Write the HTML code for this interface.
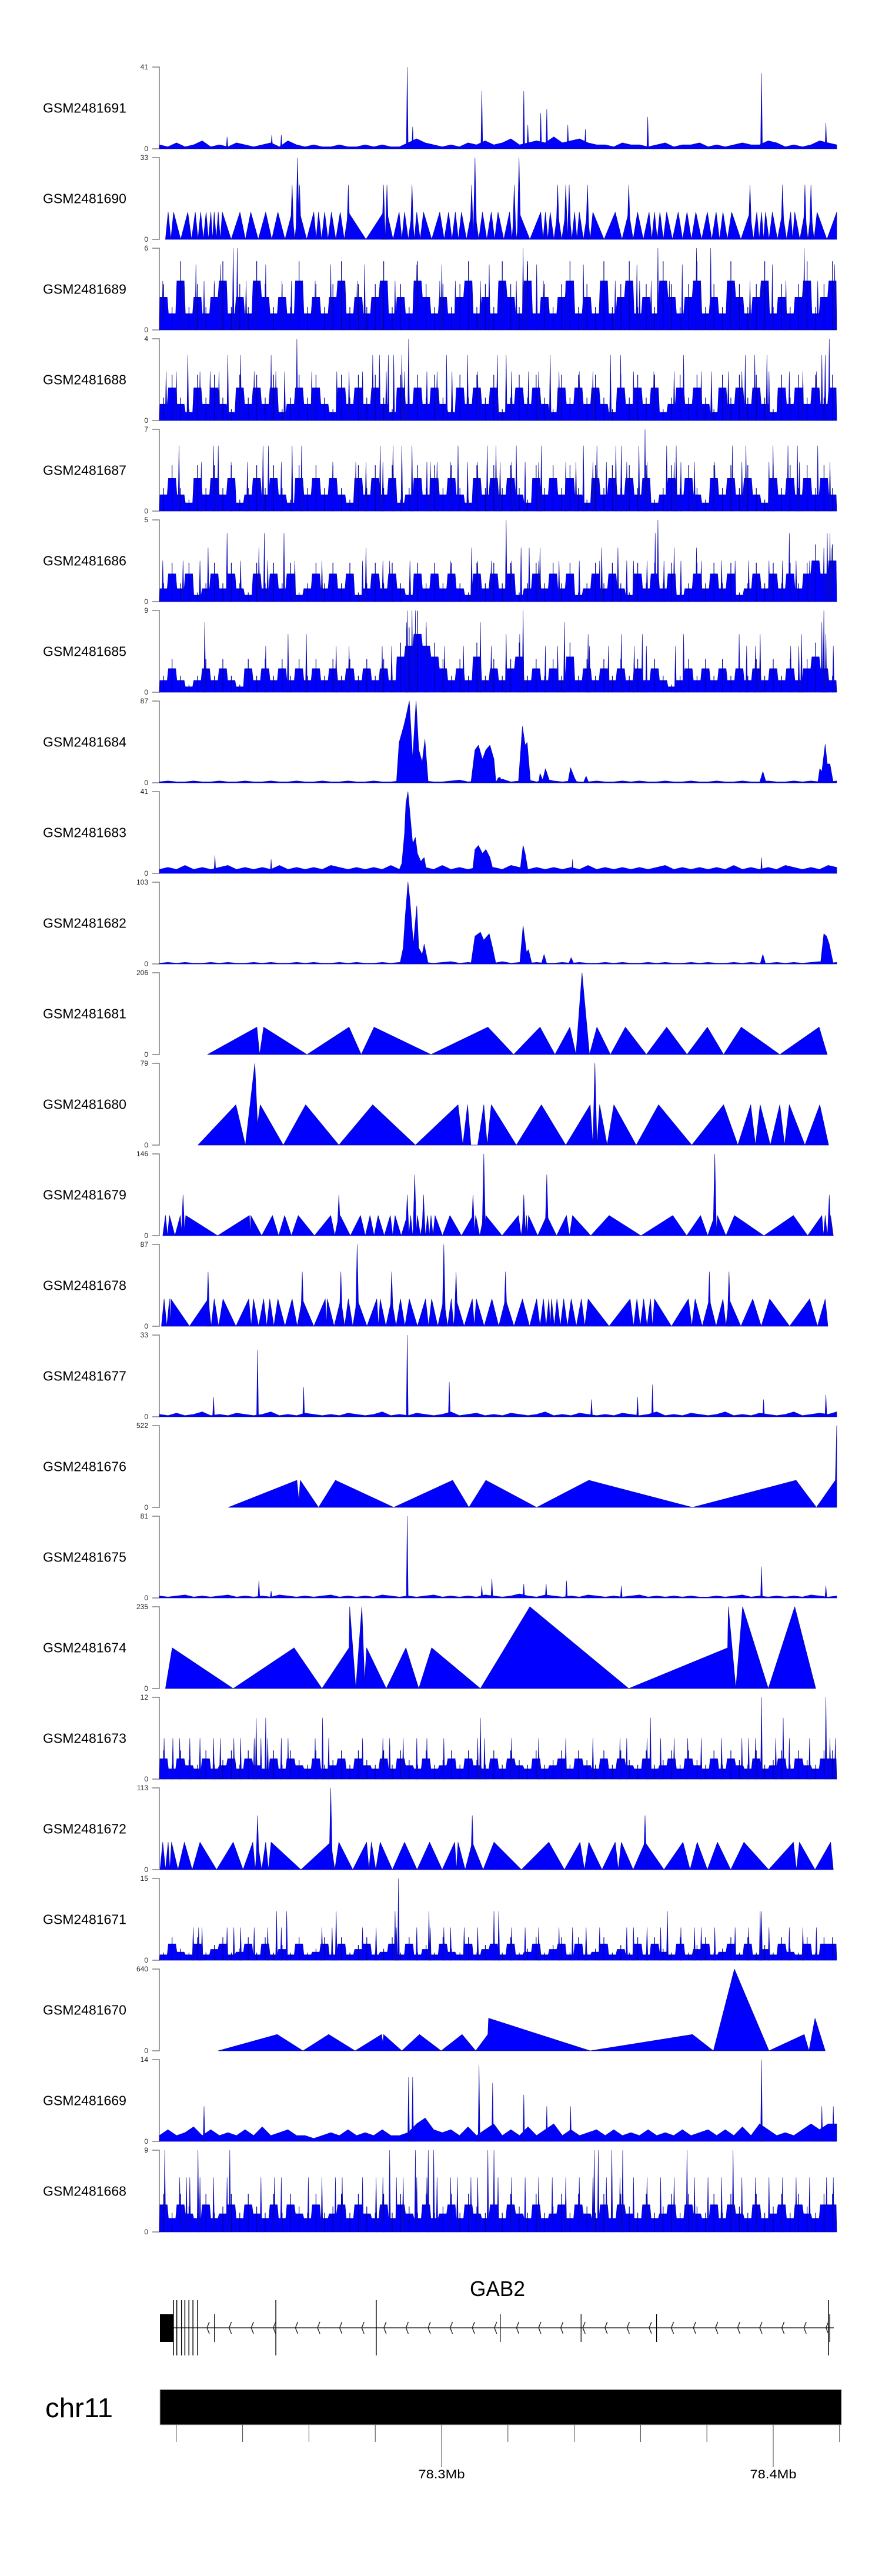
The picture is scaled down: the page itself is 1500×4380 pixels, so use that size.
<!DOCTYPE html>
<html><head><meta charset="utf-8"><title>GAB2 coverage tracks</title>
<style>
html,body{margin:0;padding:0;background:#fff;}
svg{display:block;font-family:"Liberation Sans",Arial,sans-serif;}
</style></head>
<body>
<svg id="chart" width="1500" height="4380" viewBox="0 0 1500 4380" xmlns="http://www.w3.org/2000/svg">
<rect width="1500" height="4380" fill="#fff"/>
<g id="tracks"></g>
<g id="gene">
  <text x="846" y="3904" font-size="36" text-anchor="middle" textLength="94" lengthAdjust="spacingAndGlyphs">GAB2</text>
</g>
<g id="ideo">
  <text x="77" y="4110" font-size="46" textLength="115" lengthAdjust="spacingAndGlyphs">chr11</text>
  <rect x="272" y="4063" width="1159" height="60" fill="#000" stroke="#bbb" stroke-width="1"/>
</g>
</svg>
<script>
// ---- data (bins 0..1000 across the genomic window) ----
const trackNames = ["GSM2481691","GSM2481690","GSM2481689","GSM2481688","GSM2481687","GSM2481686","GSM2481685","GSM2481684","GSM2481683","GSM2481682","GSM2481681","GSM2481680","GSM2481679","GSM2481678","GSM2481677","GSM2481676","GSM2481675","GSM2481674","GSM2481673","GSM2481672","GSM2481671","GSM2481670","GSM2481669","GSM2481668"];
const trackMax = [41,33,6,4,7,5,9,87,41,103,206,79,146,87,33,522,81,235,12,113,15,640,14,9];

const t0Vals = [2,1,3,1,2,4,1,2,1,3,2,1,2,3,1,4,2,1,2,1,1,2,1,1,2,1,2,1,1,3,5,3,2,1,2,1,3,2,4,2,3,5,2,3,4,3,6,3,4,5,3,2,2,1,3,2,2,1,2,3,1,2,2,3,1,2,1,2,3,2,2,4,3,1,2,1,2,4,3,2];
const t0SpikeBins = [100,166,180,366,374,476,538,544,563,572,603,629,721,889,984];
const t0SpikeVals = [6,7,7,41,11,29,29,12,18,20,12,10,16,38,13];

const t1PeakBins = [13,21,42,53,61,69,76,81,87,93,119,135,157,175,196,204,207,228,235,244,254,267,279,331,336,354,362,373,380,390,414,427,437,446,461,466,477,490,500,517,524,531,563,570,577,588,600,605,613,620,632,640,673,693,706,723,731,739,749,766,779,792,809,822,832,845,872,882,889,895,905,920,932,938,953,962,971,1000];
const t1PeakVals = [11,11,11,11,11,11,11,11,11,11,11,11,11,11,22,33,22,11,11,11,11,11,22,22,22,11,11,22,11,11,11,11,11,11,22,33,11,11,11,11,22,33,11,11,11,22,22,22,11,11,22,11,11,22,11,11,11,11,11,11,11,11,11,11,11,11,22,11,11,11,11,22,11,11,22,22,11,11];

const t2Vals = [2.4,1.2,3.6,1.2,2.4,1.2,2.4,3.6,1.2,2.4,1.2,3.6,2.4,1.2,2.4,1.2,3.6,1.2,2.4,1.2,2.4,3.6,1.2,2.4,1.2,2.4,3.6,1.2,2.4,1.2,3.6,2.4,1.2,2.4,1.2,2.4,3.6,1.2,2.4,1.2,3.6,2.4,1.2,3.6,1.2,2.4,1.2,2.4,3.6,1.2,2.4,1.2,3.6,1.2,2.4,3.6,1.2,2.4,1.2,3.6,2.4,1.2,2.4,3.6,1.2,2.4,1.2,3.6,2.4,1.2,2.4,3.6,1.2,2.4,1.2,2.4,3.6,1.2,2.4,3.6];
const t2SpikeBins = [109,115,537,736,793,814,952,54,90,157,253,303,380,417,487,543,557,626,705,772,905,997,5,30,36,66,81,128,143,181,195,230,273,292,328,348,414,437,474,507,527,567,600,673,709,726,753,799,845,872,892,925,972];
const t2SpikeVals = [6,6,6,6,6,6,6,4.8,4.8,4.8,4.8,4.8,4.8,4.8,4.8,4.8,4.8,4.8,4.8,4.8,4.8,4.8,3.6,3.6,3.6,3.6,3.6,3.6,3.6,3.6,3.6,3.6,3.6,3.6,3.6,3.6,3.6,3.6,3.6,3.6,3.6,3.6,3.6,3.6,3.6,3.6,3.6,3.6,3.6,3.6,3.6,3.6,3.6];

const t3Vals = [0.8,1.6,0.8,0.4,1.6,0.8,1.6,0.8,0.4,1.6,0.8,1.6,0.8,1.6,0.4,0.8,1.6,0.8,1.6,0.8,0.4,1.6,0.8,1.6,0.8,1.6,0.8,0.4,1.6,0.8,1.6,0.8,1.6,0.8,0.4,1.6,0.8,1.6,0.8,1.6,0.4,0.8,1.6,0.8,1.6,0.8,0.4,1.6,0.8,1.6,0.8,1.6,0.8,0.4,1.6,0.8,1.6,0.8,1.6,0.4,0.8,1.6,0.8,1.6,0.8,0.4,1.6,0.8,1.6,0.8,1.6,0.8,0.4,1.6,0.8,1.6,0.8,1.6,0.8,1.6];
const t3SpikeBins = [203,368,989,42,101,120,165,315,325,338,346,358,424,455,499,512,577,666,681,774,865,879,897,978,983,10,25,60,75,88,140,172,185,225,262,280,300,335,362,395,410,432,470,520,545,560,590,620,640,700,730,760,800,815,840,860,900,930,950,970];
const t3SpikeVals = [4,4,4,3.2,3.2,3.2,3.2,3.2,3.2,3.2,3.2,3.2,3.2,3.2,3.2,3.2,3.2,3.2,3.2,3.2,3.2,3.2,3.2,3.2,3.2,2.4,2.4,2.4,2.4,2.4,2.4,2.4,2.4,2.4,2.4,2.4,2.4,2.4,2.4,2.4,2.4,2.4,2.4,2.4,2.4,2.4,2.4,2.4,2.4,2.4,2.4,2.4,2.4,2.4,2.4,2.4,2.4,2.4,2.4,2.4];

const t4Vals = [1.4,2.8,1.4,0.7,2.8,1.4,2.8,1.4,2.8,0.7,1.4,2.8,1.4,2.8,1.4,0.7,2.8,1.4,2.8,1.4,2.8,1.4,0.7,2.8,1.4,2.8,1.4,2.8,0.7,1.4,2.8,1.4,2.8,1.4,2.8,1.4,0.7,2.8,1.4,2.8,1.4,2.8,1.4,0.7,2.8,1.4,2.8,1.4,2.8,1.4,0.7,2.8,1.4,2.8,1.4,2.8,1.4,2.8,0.7,1.4,2.8,1.4,2.8,1.4,0.7,2.8,1.4,2.8,1.4,2.8,1.4,0.7,2.8,1.4,2.8,1.4,2.8,1.4,2.8,1.4];
const t4SpikeBins = [717,29,80,87,153,161,196,210,326,345,358,373,441,484,497,527,564,626,646,674,682,708,749,763,846,866,906,928,942,972,62,106,130,180,256,290,305,330,395,400,410,430,455,470,503,520,540,560,600,615,640,660,690,720,760,770,790,820,860,900,945,990];
const t4SpikeVals = [7,5.6,5.6,5.6,5.6,5.6,5.6,5.6,5.6,5.6,5.6,5.6,5.6,5.6,5.6,5.6,5.6,5.6,5.6,5.6,5.6,5.6,5.6,5.6,5.6,5.6,5.6,5.6,5.6,5.6,4.2,4.2,4.2,4.2,4.2,4.2,4.2,4.2,4.2,4.2,4.2,4.2,4.2,4.2,4.2,4.2,4.2,4.2,4.2,4.2,4.2,4.2,4.2,4.2,4.2,4.2,4.2,4.2,4.2,4.2,4.2,4.2];

const t5Vals = [0.8,1.7,0.8,1.7,0.4,0.8,1.7,0.8,1.7,0.8,0.4,1.7,0.8,1.7,0.8,1.7,0.4,0.8,1.7,0.8,1.7,0.8,1.7,0.4,0.8,1.7,0.8,1.7,0.8,0.4,1.7,0.8,1.7,0.8,1.7,0.8,0.4,1.7,0.8,1.7,0.8,1.7,0.4,0.8,1.7,0.8,1.7,0.8,1.7,0.4,0.8,1.7,0.8,1.7,0.8,0.4,1.7,0.8,1.7,0.8,1.7,0.4,0.8,1.7,0.8,1.7,0.8,1.7,0.4,0.8,1.7,0.8,1.7,0.8,1.7,0.8,1.7,2.5,1.7,2.5];
const t5SpikeBins = [512,736,100,155,184,732,930,986,990,72,147,305,461,534,546,562,653,677,760,793,981,993,5,35,60,120,160,200,240,300,330,340,370,430,470,490,520,560,590,620,650,690,700,720,745,770,800,830,850,870,900,920,940,960];
const t5SpikeVals = [5,5,4.2,4.2,4.2,4.2,4.2,4.2,4.2,3.3,3.3,3.3,3.3,3.3,3.3,3.3,3.3,3.3,3.3,3.3,3.3,3.3,2.5,2.5,2.5,2.5,2.5,2.5,2.5,2.5,2.5,2.5,2.5,2.5,2.5,2.5,2.5,2.5,2.5,2.5,2.5,2.5,2.5,2.5,2.5,2.5,2.5,2.5,2.5,2.5,2.5,2.5,2.5,2.5];

const t6Vals = [1.3,2.6,1.3,0.6,1.3,2.6,1.3,2.6,1.3,0.6,2.6,1.3,2.6,1.3,2.6,1.3,2.6,1.3,2.6,1.3,2.6,1.3,2.6,1.3,2.6,1.3,2.6,1.3,3.9,5.1,6.4,5.1,3.9,2.6,1.3,2.6,1.3,3.9,1.3,2.6,1.3,2.6,3.9,1.3,2.6,1.3,2.6,1.3,3.9,1.3,2.6,1.3,2.6,1.3,2.6,1.3,2.6,1.3,2.6,1.3,0.6,1.3,2.6,1.3,2.6,1.3,2.6,1.3,2.6,1.3,2.6,1.3,2.6,1.3,2.6,1.3,2.6,3.9,2.6,1.3];
const t6SpikeBins = [366,373,378,537,981,67,365,394,474,598,978,190,217,512,532,633,682,713,774,856,887,948,984,157,261,280,329,343,421,449,490,570,588,635,663,701,719,762,867,880,932,944,995];
const t6SpikeVals = [9,9,9,9,9,7.7,7.7,7.7,7.7,7.7,7.7,6.4,6.4,6.4,6.4,6.4,6.4,6.4,6.4,6.4,6.4,6.4,6.4,5.1,5.1,5.1,5.1,5.1,5.1,5.1,5.1,5.1,5.1,5.1,5.1,5.1,5.1,5.1,5.1,5.1,5.1,5.1,5.1];

const t7Vals = [1,2,1,1,2,1,1,2,1,1,2,1,1,2,1,1,2,1,1,2,1,1,2,1,1,2,1,1,2,1,1,2,1,1,2,3,1,2,1,1,4,1,2,3,1,4,2,1,2,1,1,2,1,1,2,1,2,1,1,2,1,1,2,1,1,2,1,1,2,1,1,2,1,1,2,1,2,1,1,2];
const t7VertBins = [350,354,361,364,369,374,379,383,388,392,397,460,466,471,477,482,488,494,497,500,503,506,530,536,540,543,548,560,562,566,570,577,603,607,613,617,626,630,634,886,891,896,972,975,978,983,986,990,995];
const t7VertVals = [0,43,61,70,87,26,87,35,22,46,0,0,35,40,25,35,40,25,0,5,6,0,0,60,40,43,0,0,10,3,15,0,0,16,5,0,0,7,0,0,12,0,0,15,12,41,20,20,0];

const t8Vals = [2,3,2,4,2,3,2,3,4,2,3,2,3,2,4,2,3,2,3,2,4,3,2,3,2,3,2,4,2,3,2,3,2,4,2,3,2,3,2,3,2,4,3,2,3,2,3,2,3,2,4,2,3,2,3,2,3,2,3,4,2,3,2,3,2,3,2,4,2,3,2,3,2,4,3,2,3,2,4,3];
const t8SpikeBins = [82,165,610,889];
const t8SpikeVals = [9,7,7,8];
const t8VertBins = [352,358,362,364,367,370,374,378,381,386,391,395,462,466,471,477,482,488,494,532,537,540,545];
const t8VertVals = [0,5,20,35,41,30,15,18,10,6,8,0,0,12,14,10,12,8,0,0,14,10,0];

const t9Vals = [1,2,1,2,1,1,2,1,2,1,1,2,1,2,1,1,2,1,2,1,1,2,1,2,1,1,2,1,2,1,1,2,1,2,3,1,2,1,2,1,3,1,2,1,2,1,1,2,1,2,1,1,2,1,2,1,1,2,1,2,1,1,2,1,2,1,1,2,1,2,1,1,2,1,2,1,2,3,1,2];
const t9VertBins = [355,360,363,367,370,375,380,383,388,391,397,460,466,474,479,487,492,497,532,537,542,545,550,564,568,572,604,608,612,887,891,895,976,981,985,989,995];
const t9VertVals = [0,20,60,103,80,25,73,20,12,25,0,0,35,40,30,38,20,0,0,48,15,18,0,0,12,0,0,8,0,0,12,0,0,38,35,25,0];

const t10VertBins = [71,144,148,154,218,280,298,317,401,485,523,562,584,606,615,624,635,646,666,688,719,749,779,809,833,859,916,974,986];
const t10VertVals = [0,69,0,69,0,69,0,69,0,69,0,69,0,69,0,206,0,69,0,69,0,69,0,69,0,69,0,69,0];

const t11VertBins = [57,113,127,141,145,149,183,216,265,315,378,441,448,455,460,470,479,484,490,527,564,600,636,640,643,646,650,661,671,704,737,786,833,854,873,880,887,902,916,923,930,953,975,988];
const t11VertVals = [0,39,0,79,20,39,0,39,0,39,0,39,0,39,0,0,39,0,39,0,39,0,39,0,79,0,39,0,39,0,39,0,39,0,39,0,39,0,39,0,39,0,39,0];

const t12PeakBins = [9,15,31,35,39,133,135,167,185,205,253,265,267,297,311,323,341,348,366,371,377,381,390,396,401,407,429,463,467,479,482,530,538,542,545,572,601,610,664,758,799,820,824,849,936,978,983,989,991];
const t12PeakVals = [36,36,36,73,36,36,36,36,36,36,36,73,36,36,36,36,36,36,73,36,109,36,73,36,36,36,36,73,36,146,36,36,73,36,36,109,36,36,36,36,36,146,36,36,36,36,36,73,36];

const t13PeakBins = [7,15,17,72,81,94,132,139,154,163,175,196,211,245,248,268,279,292,321,326,343,356,369,393,402,420,431,438,462,468,491,511,536,557,567,575,579,587,597,608,623,633,695,705,715,725,731,781,791,812,832,841,876,901,960,983];
const t13PeakVals = [29,29,29,58,29,29,29,29,29,29,29,29,58,29,29,58,29,87,29,29,58,29,29,29,29,87,29,58,29,29,29,58,29,29,29,29,29,29,29,29,29,29,29,29,29,29,29,29,29,58,29,58,29,29,29,29];

const t14Vals = [1,0.5,1.5,0.5,1,2,0.5,1,0.5,1.5,1,0.5,1,2,0.5,1,0.5,1.5,1,0.5,1,0.5,1.5,1,0.5,1,2,0.5,1,0.5,1.5,1,0.5,1,2,0.5,1,1.5,0.5,1,0.5,1.5,1,0.5,1,2,0.5,1,0.5,1.5,1,0.5,1,0.5,1.5,1,0.5,1,2,0.5,1,0.5,1.5,1,0.5,1,2,0.5,1,0.5,1.5,1,0.5,1,2,0.5,1,1.5,1,2];
const t14SpikeBins = [80,145,213,366,428,638,706,728,892,984];
const t14SpikeVals = [8,27,12,33,14,7,8,13,7,9];

const t15VertBins = [102,203,206,208,235,260,346,433,457,482,557,634,787,940,970,998,1000];
const t15VertVals = [0,173,40,173,0,173,0,173,0,173,0,173,0,173,0,173,522];

const t16Vals = [2,1,2,3,1,2,1,2,3,1,2,1,2,1,3,2,1,2,1,2,3,1,2,1,2,1,3,2,1,2,1,2,3,1,2,1,2,1,3,2,1,2,4,2,1,3,2,1,2,1,3,2,1,2,1,2,3,1,2,1,2,1,2,1,1,2,1,2,3,1,2,1,2,1,2,1,3,2,1,2];
const t16SpikeBins = [366,889,147,491,538,571,601,682,984,165,476];
const t16SpikeVals = [81,31,17,19,14,14,17,12,12,7,12];

const t17VertBins = [9,19,109,199,240,280,281,290,299,303,306,335,364,383,402,474,547,693,839,840,851,861,899,938,969];
const t17VertVals = [0,117,0,117,0,117,235,0,235,20,117,0,117,0,117,0,235,0,117,235,0,235,0,235,0];

const t18Vals = [3,1.5,3,2,1.5,3,1.5,2,3,1.5,3,2,1.5,3,1.5,3,2,1.5,3,1.5,2,3,1.5,3,2,1.5,3,1.5,3,2,1.5,3,1.5,2,3,1.5,3,2,1.5,3,1.5,3,2,1.5,3,1.5,2,3,1.5,3,2,1.5,3,1.5,3,2,1.5,3,1.5,2,3,1.5,3,2,1.5,3,1.5,3,2,1.5,3,1.5,2,3,1.5,3,2,1.5,3,3];
const t18SpikeBins = [143,157,241,474,725,921,889,984,7,20,30,45,60,80,90,110,120,140,150,160,180,190,230,250,300,330,340,360,380,395,420,470,480,520,560,600,640,680,690,720,740,760,780,800,830,860,870,880,910,930,960,990,998];
const t18SpikeVals = [9,9,9,9,9,9,12,12,6,6,6,6,6,6,6,6,6,6,6,6,6,6,6,6,6,6,6,6,6,6,6,6,6,6,6,6,6,6,6,6,6,6,6,6,6,6,6,6,6,6,6,6,6];

const t19PeakBins = [5,13,18,37,60,109,138,145,157,165,253,265,306,313,326,362,399,436,441,462,494,575,621,634,673,682,717,773,794,824,863,936,945,991];
const t19PeakVals = [38,38,38,38,38,38,38,75,38,38,113,38,38,38,38,38,38,38,38,75,38,38,38,38,38,38,75,38,38,38,38,38,38,38];

const t20Vals = [1,3,1.5,1,3,1,2,3,1,1.5,3,1,3,1,2,1,3,1,1.5,3,1,3,1,2,3,1,1.5,3,1,3,1,2,1,3,1.5,1,3,1,2,3,1,3,1,1.5,3,1,2,3,1,3,1,1.5,3,1,2,1,3,1,3,1.5,1,3,1,2,3,1,1.5,3,1,3,1,2,1,3,1.5,1,3,1,3,3];
const t20SpikeBins = [353,173,188,261,348,398,494,501,750,887,889,50,58,63,100,110,120,140,160,180,240,255,300,320,350,380,400,420,430,450,470,520,540,560,590,610,630,650,690,700,720,740,770,790,800,820,850,870,900,930,950,970];
const t20SpikeVals = [15,9,9,9,9,9,9,9,9,9,9,6,6,6,6,6,6,6,6,6,6,6,6,6,6,6,6,6,6,6,6,6,6,6,6,6,6,6,6,6,6,6,6,6,6,6,6,6,6,6,6,6];

const t21VertBins = [87,174,212,250,289,328,330,331,358,384,416,447,467,485,486,636,787,818,849,900,952,959,968,983];
const t21VertVals = [0,128,0,128,0,128,60,128,0,128,0,128,0,128,255,0,128,0,640,0,128,0,255,0];

const t22Vals = [1,2,1,1.5,2.5,1,2,1,1.5,1,2,1,2.5,1,1.5,2,1,1,0.5,1,1.5,1,2,1,1.5,1,2,1,1,1.5,3,4,2,1.5,2,1,2.5,1,2,3,1,2,1,2.5,1,2,3,1,2,1,1.5,2,1,2,1,1.5,1,2,1,1.5,1,2,1,1.5,2,1,2,1,2.5,1,3,2,1,1.5,1,2,3,2,3,3];
const t22SpikeBins = [368,374,472,492,538,889,572,607,66,978,995];
const t22SpikeVals = [11,11,13,10,8,14,6,6,6,6,6];

const t23Vals = [3,1.5,3,2,1.5,3,1.5,2,3,1.5,3,2,1.5,3,1.5,3,2,1.5,3,1.5,2,3,1.5,3,2,1.5,3,1.5,3,2,1.5,3,1.5,2,3,1.5,3,2,1.5,3,1.5,3,2,1.5,3,1.5,2,3,1.5,3,2,1.5,3,1.5,3,2,1.5,3,1.5,2,3,1.5,3,2,1.5,3,1.5,3,2,1.5,3,1.5,2,3,1.5,3,2,1.5,3,3];
const t23SpikeBins = [8,57,104,340,378,397,405,485,494,642,648,668,684,779,847,30,40,45,60,80,100,150,170,180,220,240,260,270,300,320,330,350,360,380,395,410,430,440,460,470,500,520,540,560,580,600,620,640,660,680,700,720,740,760,790,810,830,860,880,900,920,940,960,985,995];
const t23SpikeVals = [9,9,9,9,9,9,9,9,9,9,9,9,9,9,9,6,6,6,6,6,6,6,6,6,6,6,6,6,6,6,6,6,6,6,6,6,6,6,6,6,6,6,6,6,6,6,6,6,6,6,6,6,6,6,6,6,6,6,6,6,6,6,6,6,6];

// gene model (bins over the same window)
const exonTallBins = [20,25,32,37,43,49,56,172,321,992];
const exonMidBins = [81,505,625,737,994];

const trackVals = [t0Vals,null,t2Vals,t3Vals,t4Vals,t5Vals,t6Vals,t7Vals,t8Vals,t9Vals,null,null,null,null,t14Vals,null,t16Vals,null,t18Vals,null,t20Vals,null,t22Vals,t23Vals];
const trackSpikeBins = [t0SpikeBins,null,t2SpikeBins,t3SpikeBins,t4SpikeBins,t5SpikeBins,t6SpikeBins,null,t8SpikeBins,null,null,null,null,null,t14SpikeBins,null,t16SpikeBins,null,t18SpikeBins,null,t20SpikeBins,null,t22SpikeBins,t23SpikeBins];
const trackSpikeVals = [t0SpikeVals,null,t2SpikeVals,t3SpikeVals,t4SpikeVals,t5SpikeVals,t6SpikeVals,null,t8SpikeVals,null,null,null,null,null,t14SpikeVals,null,t16SpikeVals,null,t18SpikeVals,null,t20SpikeVals,null,t22SpikeVals,t23SpikeVals];
const trackVertBins = [null,null,null,null,null,null,null,t7VertBins,t8VertBins,t9VertBins,t10VertBins,t11VertBins,null,null,null,t15VertBins,null,t17VertBins,null,null,null,t21VertBins,null,null];
const trackVertVals = [null,null,null,null,null,null,null,t7VertVals,t8VertVals,t9VertVals,t10VertVals,t11VertVals,null,null,null,t15VertVals,null,t17VertVals,null,null,null,t21VertVals,null,null];
const trackPeakBins = [null,t1PeakBins,null,null,null,null,null,null,null,null,null,null,t12PeakBins,t13PeakBins,null,null,null,null,null,t19PeakBins,null,null,null,null];
const trackPeakVals = [null,t1PeakVals,null,null,null,null,null,null,null,null,null,null,t12PeakVals,t13PeakVals,null,null,null,null,null,t19PeakVals,null,null,null,null];
const denseTracks = [2,3,4,5,6,18,20,23];

// ---- layout ----
const NS = "http://www.w3.org/2000/svg";
const X0 = 271, X1 = 1423, TOP0 = 114, PITCH = 154, H = 139;
const xScale = b => X0 + b / 1000 * (X1 - X0);
function yScale(i, v) { const bot = TOP0 + PITCH * i + H; return bot - v / trackMax[i] * H; }
function mk(tag, attrs, parent) { const e = document.createElementNS(NS, tag); for (const k in attrs) e.setAttribute(k, attrs[k]); parent.appendChild(e); return e; }

const root = document.getElementById("tracks");
trackNames.forEach((name, i) => {
  const top = TOP0 + PITCH * i, bot = top + H;
  const g = mk("g", {}, root);
  
  
  const lab = mk("text", {x: 73, y: top + H / 2 + 8, "font-size": 23, fill: "#000"}, g);
  lab.textContent = name;
  
  
  const ax = mk("path", {d: `M259 ${top}H${X0}V${bot}H259`, fill: "none", stroke: "#7f7f7f", "stroke-width": 1.5}, g);
  
  
  const tMax = mk("text", {x: 252, y: top + 4, "font-size": 12, "text-anchor": "end", fill: "#222"}, g);
  tMax.textContent = trackMax[i];
  
  
  const tMin = mk("text", {x: 252, y: bot + 4, "font-size": 12, "text-anchor": "end", fill: "#222"}, g);
  tMin.textContent = "0";
  
  

  const dense = denseTracks.includes(i);
  const style = {fill: "#0000ff", stroke: "#10109a", "stroke-width": 0.7, "stroke-linejoin": "round"};
  const vals = trackVals[i];
  if (vals) {
    let d = `M${X0} ${bot}`;
    if (dense) {
      const w = (X1 - X0) / vals.length;
      vals.forEach((v, k) => {
        const xa = X0 + k * w, y = yScale(i, v).toFixed(1);
        d += `L${(xa + 1).toFixed(1)} ${y}L${(xa + w - 1).toFixed(1)} ${y}`;
      });
    } else {
      vals.forEach((v, k) => { d += `L${xScale(k * 1000 / (vals.length - 1)).toFixed(1)} ${yScale(i, v).toFixed(1)}`; });
    }
    d += `L${X1} ${bot}Z`;
    const p = mk("path", Object.assign({d}, style), g);
    
    
    if (dense) {
      // fine texture lines across the dense area
      vals.forEach((v, k) => {
        const x = xScale((k + 0.5) * 1000 / vals.length);
        const l = mk("line", {x1: x, y1: bot, x2: x, y2: yScale(i, v * 1.4), stroke: "#00008b", "stroke-width": 1.2}, g);
        
        
      });
    }
  }
  const vb = trackVertBins[i];
  if (vb) {
    let d = `M${xScale(vb[0]).toFixed(1)} ${bot}`;
    vb.forEach((b, k) => { d += `L${xScale(b).toFixed(1)} ${yScale(i, trackVertVals[i][k]).toFixed(1)}`; });
    d += `L${xScale(vb[vb.length - 1]).toFixed(1)} ${bot}Z`;
    const p = mk("path", Object.assign({d}, style), g);
    
    
  }
  const pb = trackPeakBins[i];
  if (pb) {
    const pv = trackPeakVals[i];
    const base = Math.min(...pv);
    let d = `M${xScale(pb[0] - 4).toFixed(1)} ${bot}`;
    pb.forEach((b, k) => {
      if (k > 0) d += `L${xScale((pb[k - 1] + b) / 2).toFixed(1)} ${bot}`;
      d += `L${xScale(b).toFixed(1)} ${yScale(i, base).toFixed(1)}`;
    });
    d += `L${Math.min(X1, xScale(pb[pb.length - 1] + 4)).toFixed(1)} ${bot}Z`;
    const p = mk("path", Object.assign({d}, style), g);
    
    
    pb.forEach((b, k) => {
      if (pv[k] <= base) return;
      const x = xScale(b);
      const s = mk("path", {d: `M${(x - 3).toFixed(1)} ${bot}L${x.toFixed(1)} ${yScale(i, pv[k]).toFixed(1)}L${(x + 3).toFixed(1)} ${bot}Z`, fill: "#0000ff", stroke: "#10109a", "stroke-width": 0.6}, g);
      
      
    });
  }
  const sb = trackSpikeBins[i];
  if (sb) {
    sb.forEach((b, k) => {
      const x = xScale(b);
      const p = mk("path", {d: `M${(x - 1.6).toFixed(1)} ${bot}L${x.toFixed(1)} ${yScale(i, trackSpikeVals[i][k]).toFixed(1)}L${(x + 1.6).toFixed(1)} ${bot}Z`, fill: "#0000ff", stroke: "#10109a", "stroke-width": 0.6}, g);
      
      
    });
  }
});

// ---- gene model ----
const gene = document.getElementById("gene");
const GX0 = 272, GX1 = 1418, GY = 3958;
const gx = b => GX0 + b / 1000 * (GX1 - GX0);
const gl = mk("line", {x1: GX0, y1: GY, x2: GX1, y2: GY, stroke: "#333", "stroke-width": 1.5}, gene);


const utr = mk("rect", {x: 272, y: 3935, width: 23, height: 47, fill: "#000"}, gene);


exonTallBins.forEach(b => {
  const l = mk("line", {x1: gx(b), y1: 3911, x2: gx(b), y2: 4005, stroke: "#000", "stroke-width": 1.5}, gene);
  
  
});
exonMidBins.forEach(b => {
  const l = mk("line", {x1: gx(b), y1: 3935, x2: gx(b), y2: 3982, stroke: "#000", "stroke-width": 1.3}, gene);
  
  
});
for (let x = 352; x < 1405; x += 37.6) {
  const c = mk("path", {d: `M${(x + 4).toFixed(1)} ${GY - 10}L${x.toFixed(1)} ${GY}L${(x + 4).toFixed(1)} ${GY + 10}`, fill: "none", stroke: "#222", "stroke-width": 1.4}, gene);
  
  
}

// ---- genome axis ----
const ideo = document.getElementById("ideo");
const axisTicksMb = [78.22,78.24,78.26,78.28,78.30,78.32,78.34,78.36,78.38,78.40,78.42];
const axisLabelsMb = [78.3, 78.4];
const mbX = mb => 751 + (mb - 78.3) * 5640;
axisTicksMb.forEach(mb => {
  const major = axisLabelsMb.some(l => Math.abs(l - mb) < 1e-6);
  const t = mk("line", {x1: mbX(mb), y1: 4123, x2: mbX(mb), y2: major ? 4195 : 4152, stroke: "#444", "stroke-width": 1}, ideo);
  
  
});
axisLabelsMb.forEach(mb => {
  const t = mk("text", {x: mbX(mb), y: 4214, "font-size": 21, "text-anchor": "middle", textLength: 79, lengthAdjust: "spacingAndGlyphs"}, ideo);
  t.textContent = mb.toFixed(1) + "Mb";
  
  
});
</script>
</body></html>
